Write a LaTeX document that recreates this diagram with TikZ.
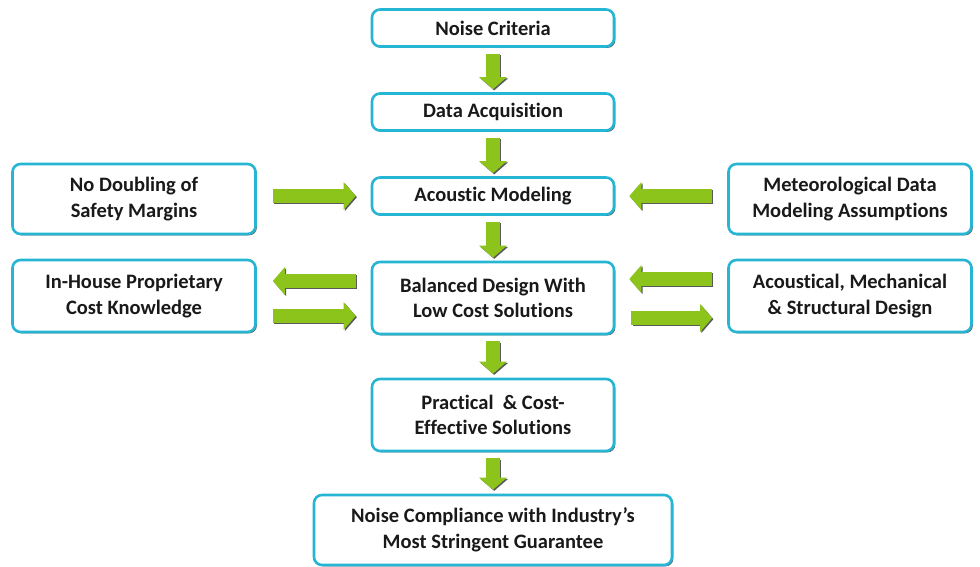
\documentclass[tikz,border=0pt]{standalone}
\usepackage{fontspec}
\setmainfont{Carlito}[Ligatures={NoCommon,NoRare,NoContextual}]
\usetikzlibrary{arrows.meta,shadows,calc}
\definecolor{boxcyan}{RGB}{38,182,212}
\definecolor{agreen}{RGB}{140,196,28}
\definecolor{txt}{RGB}{25,25,25}
\newcommand\garr[2]{%
  \draw[gshadow] #1 -- #2;
  \draw[garrow] #1 -- #2;}
\begin{document}
\begin{tikzpicture}[x=1pt,y=-1pt,
  box/.style={draw=boxcyan, line width=2.6pt, rounded corners=8pt, fill=white,
    align=center, inner sep=0pt, text=txt,
    font=\bfseries\fontsize{20.5}{25.5}\selectfont,
    drop shadow={shadow xshift=1.4pt, shadow yshift=-1.4pt, opacity=0.8, fill=black!80}},
  garrow/.style={line width=14pt, draw=agreen, -{Triangle[width=27pt,length=12pt]}},
  gshadow/.style={line width=14pt, draw=black!65, -{Triangle[width=27pt,length=12pt]},
    transform canvas={shift={(1.2pt,-1.2pt)}}}
]
\useasboundingbox (0,0) rectangle (980,567);
\node[box, minimum width=242pt, minimum height=37pt] (nc) at (493,28) {Noise Criteria};
\node[box, minimum width=242pt, minimum height=37pt] (da) at (493,112) {Data Acquisition};
\node[box, minimum width=242pt, minimum height=37pt] (am) at (493,196) {Acoustic Modeling};
\node[box, minimum width=242pt, minimum height=72pt] (bd) at (493,298) {Balanced Design With\\Low Cost Solutions};
\node[box, minimum width=242pt, minimum height=72pt] (pc) at (493,415) {Practical \ \& Cost-\\Effective Solutions};
\node[box, minimum width=358pt, minimum height=70pt] (ncg) at (493,530) {Noise Compliance with Industry’s\\Most Stringent Guarantee};
\node[box, minimum width=243pt, minimum height=70pt] (nd) at (134,199) {No Doubling of\\Safety Margins};
\node[box, minimum width=243pt, minimum height=72pt] (ih) at (134,296) {In-House Proprietary\\Cost Knowledge};
\node[box, minimum width=243pt, minimum height=70pt] (md) at (850,199) {Meteorological Data\\Modeling Assumptions};
\node[box, minimum width=243pt, minimum height=72pt] (ac) at (850,296) {Acoustical, Mechanical\\\& Structural Design};

% vertical arrows
\garr{([yshift=-6pt]nc.south)}{([yshift=3pt]da.north)}
\garr{([yshift=-6pt]da.south)}{([yshift=3pt]am.north)}
\garr{([yshift=-6pt]am.south)}{([yshift=3pt]bd.north)}
\garr{([yshift=-6pt]bd.south)}{([yshift=4pt]pc.north)}
\garr{([yshift=-6pt]pc.south)}{([yshift=4pt]ncg.north)}
% horizontal arrows
\garr{([xshift=16pt,yshift=3pt]nd.east)}{([xshift=-15pt,yshift=3pt]nd.east -| am.west)}
\garr{([xshift=-15pt,yshift=3pt]md.west)}{([xshift=14pt,yshift=3pt]md.west -| am.east)}
\garr{([xshift=-15pt,yshift=17pt]bd.west)}{([xshift=16pt,yshift=17pt]bd.west -| ih.east)}
\garr{([xshift=16pt,yshift=-20pt]ih.east)}{([xshift=-15pt,yshift=-20pt]ih.east -| bd.west)}
\garr{([xshift=-15pt,yshift=17pt]ac.west)}{([xshift=14pt,yshift=17pt]ac.west -| bd.east)}
\garr{([xshift=16pt,yshift=-20pt]bd.east)}{([xshift=-15pt,yshift=-20pt]bd.east -| ac.west)}
\end{tikzpicture}
\end{document}
